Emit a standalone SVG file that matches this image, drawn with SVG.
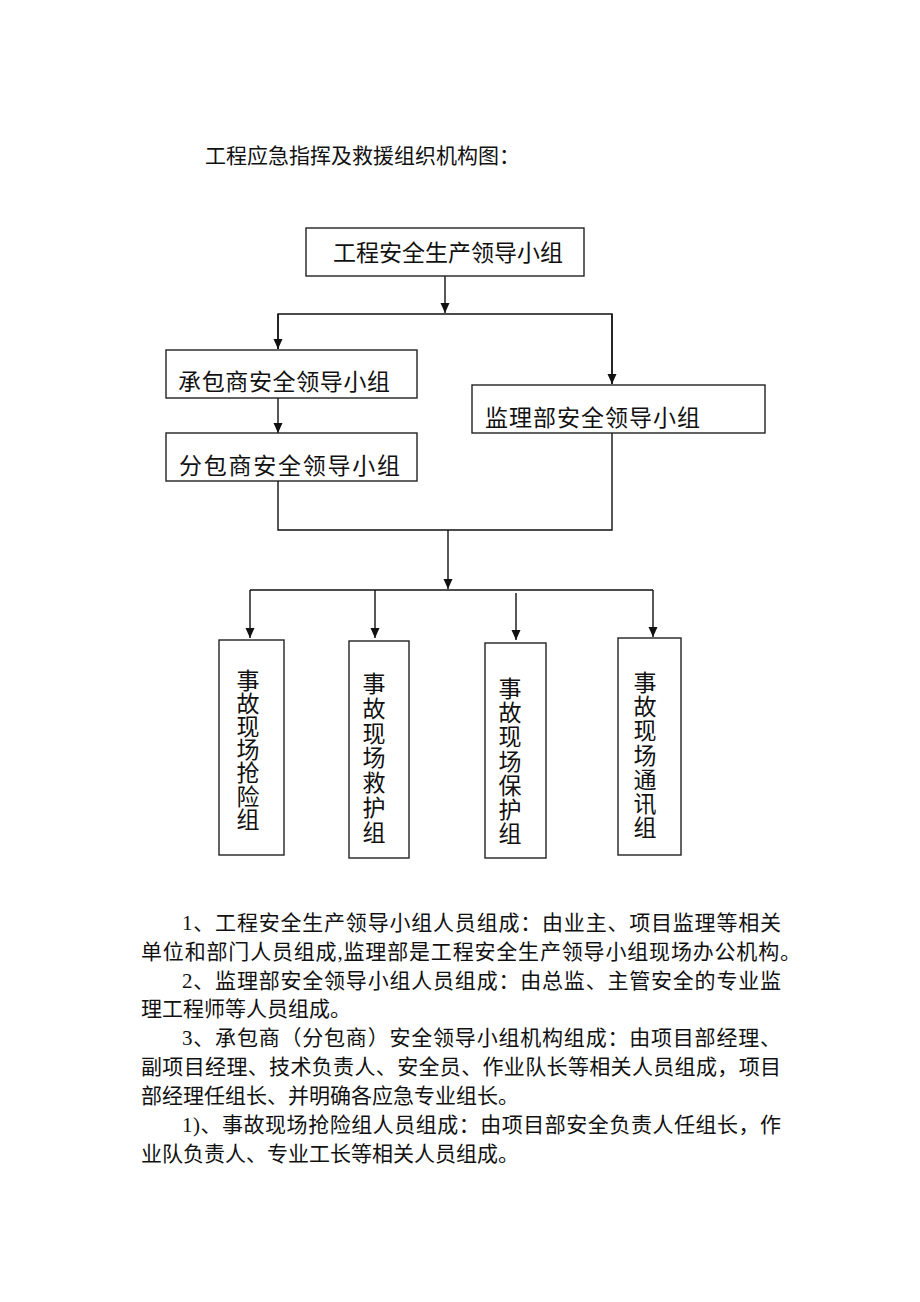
<svg xmlns="http://www.w3.org/2000/svg" width="920" height="1302" viewBox="0 0 920 1302">
<style>
.t{font-family:"Liberation Serif","Noto Sans CJK SC",serif;fill:#111;}
.p{font-size:21px;}
.b{font-size:23px;}
.box{fill:#fff;stroke:#222;stroke-width:1.4;}
.ln{fill:none;stroke:#111;stroke-width:1.4;}
</style>
<defs>
<marker id="ah" markerUnits="userSpaceOnUse" markerWidth="10" markerHeight="10" refX="10" refY="5" orient="auto" viewBox="0 0 10 10">
<path d="M0,0.5 L10,5 L0,9.5 z" fill="#111"/>
</marker>
</defs>
<rect width="920" height="1302" fill="#fff"/>
<text class="t" x="205" y="163" font-size="21">工程应急指挥及救援组织机构图：</text>

<g id="connectors">
<line class="ln" x1="445" y1="276" x2="445" y2="313" marker-end="url(#ah)"/>
<polyline class="ln" points="278,349 278,314 612,314 612,384"/>
<line class="ln" x1="278" y1="314" x2="278" y2="349" marker-end="url(#ah)"/>
<line class="ln" x1="612" y1="314" x2="612" y2="384" marker-end="url(#ah)"/>
<line class="ln" x1="278" y1="398" x2="278" y2="433" marker-end="url(#ah)"/>
<polyline class="ln" points="278,481 278,530 612,530 612,433"/>
<line class="ln" x1="448" y1="530" x2="448" y2="589" marker-end="url(#ah)"/>
<line class="ln" x1="250" y1="590" x2="653" y2="590"/>
<line class="ln" x1="250" y1="590" x2="250" y2="638" marker-end="url(#ah)"/>
<line class="ln" x1="375" y1="590" x2="375" y2="638" marker-end="url(#ah)"/>
<line class="ln" x1="516" y1="593" x2="516" y2="640" marker-end="url(#ah)"/>
<line class="ln" x1="653" y1="590" x2="653" y2="637" marker-end="url(#ah)"/>
</g>

<g id="n-top">
<rect class="box" x="306" y="228" width="278" height="48"/>
<text class="t b" x="333" y="261" textLength="230" lengthAdjust="spacing">工程安全生产领导小组</text>
</g>
<g id="n-contractor">
<rect class="box" x="166" y="350" width="251" height="48"/>
<text class="t b" x="178" y="390" textLength="212" lengthAdjust="spacing">承包商安全领导小组</text>
</g>
<g id="n-sub">
<rect class="box" x="166" y="433" width="251" height="48"/>
<text class="t b" x="179" y="474" textLength="221" lengthAdjust="spacing">分包商安全领导小组</text>
</g>
<g id="n-monitor">
<rect class="box" x="472" y="385" width="293" height="48"/>
<text class="t b" x="485" y="426" textLength="215" lengthAdjust="spacing">监理部安全领导小组</text>
</g>

<g id="n-g1">
<rect class="box" x="219" y="640" width="65" height="215"/>
<text class="t b" text-anchor="middle"><tspan x="248" y="689">事</tspan><tspan x="248" dy="23.1">故</tspan><tspan x="248" dy="23.1">现</tspan><tspan x="248" dy="23.1">场</tspan><tspan x="248" dy="23.1">抢</tspan><tspan x="248" dy="23.1">险</tspan><tspan x="248" dy="23.1">组</tspan></text>
</g>
<g id="n-g2">
<rect class="box" x="349" y="641" width="60" height="217"/>
<text class="t b" text-anchor="middle"><tspan x="374" y="692">事</tspan><tspan x="374" dy="24.8">故</tspan><tspan x="374" dy="24.8">现</tspan><tspan x="374" dy="24.8">场</tspan><tspan x="374" dy="24.8">救</tspan><tspan x="374" dy="24.8">护</tspan><tspan x="374" dy="24.8">组</tspan></text>
</g>
<g id="n-g3">
<rect class="box" x="485" y="643" width="61" height="215"/>
<text class="t b" text-anchor="middle"><tspan x="510" y="697">事</tspan><tspan x="510" dy="24.2">故</tspan><tspan x="510" dy="24.2">现</tspan><tspan x="510" dy="24.2">场</tspan><tspan x="510" dy="24.2">保</tspan><tspan x="510" dy="24.2">护</tspan><tspan x="510" dy="24.2">组</tspan></text>
</g>
<g id="n-g4">
<rect class="box" x="618" y="638" width="63" height="217"/>
<text class="t b" text-anchor="middle"><tspan x="645" y="691">事</tspan><tspan x="645" dy="24.2">故</tspan><tspan x="645" dy="24.2">现</tspan><tspan x="645" dy="24.2">场</tspan><tspan x="645" dy="24.2">通</tspan><tspan x="645" dy="24.2">讯</tspan><tspan x="645" dy="24.2">组</tspan></text>
</g>

<g id="paragraphs" class="t p">
<text x="182" y="930" textLength="599" lengthAdjust="spacing">1、工程安全生产领导小组人员组成：由业主、项目监理等相关</text>
<text x="141" y="959" textLength="660" lengthAdjust="spacing">单位和部门人员组成,监理部是工程安全生产领导小组现场办公机构。</text>
<text x="182" y="988" textLength="599" lengthAdjust="spacing">2、监理部安全领导小组人员组成：由总监、主管安全的专业监</text>
<text x="141" y="1016">理工程师等人员组成。</text>
<text x="182" y="1045" textLength="599" lengthAdjust="spacing">3、承包商（分包商）安全领导小组机构组成：由项目部经理、</text>
<text x="141" y="1074" textLength="640" lengthAdjust="spacing">副项目经理、技术负责人、安全员、作业队长等相关人员组成，项目</text>
<text x="141" y="1103">部经理任组长、并明确各应急专业组长。</text>
<text x="182" y="1132" textLength="599" lengthAdjust="spacing">1)、事故现场抢险组人员组成：由项目部安全负责人任组长，作</text>
<text x="141" y="1161">业队负责人、专业工长等相关人员组成。</text>
</g>
</svg>
